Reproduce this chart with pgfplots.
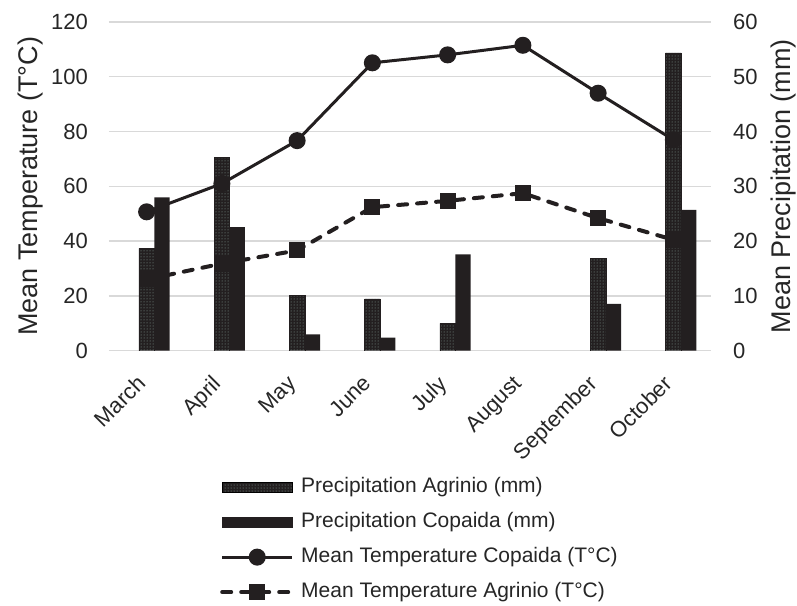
\documentclass[border=0pt]{standalone}
\usepackage{fontspec}
\setmainfont{Liberation Sans}
\usepackage{pgfplots}
\pgfplotsset{compat=1.18}
\usetikzlibrary{patterns}

\definecolor{ink}{HTML}{231F20}
\definecolor{txt}{HTML}{262626}
\definecolor{gridc}{HTML}{D9D9D9}
\definecolor{speck}{HTML}{8FA8A0}

% precipitation, mm (right axis)
\pgfplotstableread{
x  agr    cop
0  18.7   28.0
1  35.35  22.55
2  10.05  3.0
3  9.45   2.4
4  5.0    17.6
6  16.8   8.55
7  54.35  25.7
}\prec

% mean temperature (left axis)
\pgfplotstableread{
x  cop    agr
0  50.7   26.0
1  61.0   31.8
2  76.7   36.6
3  105.1  52.4
4  108.0  54.7
5  111.5  57.5
6  94.0   48.4
7  77.0   40.5
}\temp

\pgfplotsset{
  base/.style={
    width=602pt, height=328.7pt, scale only axis,
    xmin=-0.5, xmax=7.5,
    axis line style={draw=none},
    tick style={draw=none},
    /pgf/number format/assume math mode=true,
    tick label style={font=\fontsize{22}{22}\selectfont, text=txt},
    label style={font=\fontsize{27}{27}\selectfont, text=txt},
  },
  agrbar/.style={ybar, bar width=15.4pt, bar shift=0pt,
    fill=ink, draw=ink, line width=0.4pt,
    postaction={pattern=dots, pattern color=speck}},
  copbar/.style={ybar, bar width=15.4pt, bar shift=15.4pt,
    fill=ink, draw=none},
}

\begin{document}
\begin{tikzpicture}
\useasboundingbox (-109pt,-254.3pt) rectangle (688pt,350.7pt);

% right axis: grid and Agrinio bars
\begin{axis}[base,
  ymin=0, ymax=60, ytick={0,10,...,60},
  axis y line*=right, axis x line=none,
  ymajorgrids, grid style={gridc, line width=1.3pt},
  yticklabel style={anchor=west, inner sep=0pt, xshift=22pt},
  ylabel={Mean Precipitation (mm)},
  ylabel style={at={(axis description cs:1.12,0.5)}, anchor=center},
]
\addplot[agrbar] table[x=x, y=agr] {\prec};
\end{axis}

% left axis: temperature lines and legend
\begin{axis}[base,
  ymin=0, ymax=120, ytick={0,20,...,120},
  axis y line*=left, axis x line*=bottom,
  xtick={0,...,7},
  xticklabels={March,April,May,June,July,August,September,October},
  xticklabel style={xshift=-11pt, yshift=-23pt, rotate=45, anchor=north east, inner sep=0pt},
  yticklabel style={anchor=east, inner sep=0pt, xshift=-21pt},
  ylabel={Mean Temperature (T°C)},
  ylabel style={at={(axis description cs:-0.131,0.5)}, anchor=center},
  legend style={at={(axis description cs:0.1844,-0.384)}, anchor=north west,
    draw=none, fill=none, inner sep=0pt, row sep=15pt, column sep=7pt,
    font=\fontsize{21}{21}\selectfont, text=txt,
    nodes={inner sep=0pt, text height=15pt, text depth=5pt}},
  legend cell align=left,
  legend image code/.code={\draw[mark repeat=2, mark phase=2, #1]
    plot coordinates {(0pt,0pt) (35pt,0pt) (70pt,0pt)};},
]
\addlegendimage{legend image code/.code={
  \fill[ink] (0pt,-5pt) rectangle (70pt,5pt);
  \fill[pattern=dots, pattern color=speck] (0pt,-5pt) rectangle (70pt,5pt);}}
\addlegendentry{Precipitation Agrinio (mm)}
\addlegendimage{legend image code/.code={\fill[ink] (0pt,-5pt) rectangle (70pt,5pt);}}
\addlegendentry{Precipitation Copaida (mm)}
\addplot[ink, line width=3pt, mark=*, mark size=7pt, mark options={solid}]
  table[x=x, y=cop] {\temp};
\addlegendentry{Mean Temperature Copaida (T°C)}
\addplot[ink, line width=4pt, line cap=round, dash pattern=on 9pt off 10pt,
  mark=square*, mark size=6pt, mark options={solid, line cap=butt}]
  table[x=x, y=agr] {\temp};
\addlegendentry{Mean Temperature Agrinio (T°C)}
\end{axis}

% Copaida bars on top
\begin{axis}[base, hide axis, ymin=0, ymax=60]
\addplot[copbar] table[x=x, y=cop] {\prec};
\end{axis}
\end{tikzpicture}
\end{document}
